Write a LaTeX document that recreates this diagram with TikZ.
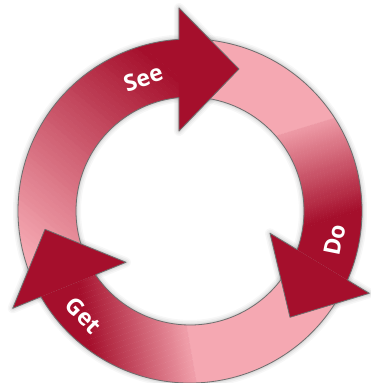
\documentclass[tikz,border=0pt]{standalone}
\usepackage{fontspec}
\setmainfont{Open Sans}
\definecolor{darkc}{HTML}{A50F2C}
\definecolor{pinkc}{HTML}{F5A8B2}
\definecolor{edgec}{HTML}{6E6E6E}
\newcommand{\Ro}{172}
\newcommand{\Ri}{114}
% annular sector: tail angle, outer junction angle, inner junction angle
\newcommand{\shaftpath}[3]{(#1:\Ro) arc[start angle=#1, end angle=#2, radius=\Ro] -- (#3:\Ri) arc[start angle=#3, end angle=#1, radius=\Ri] -- cycle}
% linear gradient strips: origin, angle, length, start percent
\newcommand{\gradstrips}[4]{%
  \begin{scope}[shift={#1}, rotate=#2]
    \fill[pinkc] (-500,-500) rectangle (0.3,500);
    \foreach \i in {0,...,47}{
      \pgfmathtruncatemacro\pp{#4+(100-#4)*\i/47}
      \fill[darkc!\pp!pinkc] ({#3*\i/48},-500) rectangle ({#3*(\i+1)/48+0.4},500);
    }
    \fill[darkc] (#3,-500) rectangle (500,500);
  \end{scope}}
\tikzset{
  edge/.style={draw=edgec, line width=0.8pt, line join=round},
  lab/.style={text=white, font=\bfseries\fontsize{23}{23}\selectfont, inner sep=0pt},
  glow/.style={black, line join=round}
}
\begin{document}
\begin{tikzpicture}[x=1pt,y=1pt]
\useasboundingbox (-190,-172) rectangle (180,211);
% head points
\coordinate (so) at (-11,203);  \coordinate (st) at (49,142);   \coordinate (si) at (-11,80);
\coordinate (sjo) at (-11,171.6); \coordinate (sji) at (-11,113.5);
\coordinate (do) at (179.3,-82.3); \coordinate (dt) at (100,-106.3); \coordinate (di) at (80,-22.3);
\coordinate (djo) at (157.6,-69.1); \coordinate (dji) at (107.2,-38.7);
\coordinate (go) at (-177.3,-97.3); \coordinate (gt) at (-145,-18.3); \coordinate (gi) at (-64,-51.3);
\coordinate (gjo) at (-149,-85.8); \coordinate (gji) at (-94.5,-63.7);
% soft glow
\foreach \w/\o in {10/0.03,7/0.04,4/0.05,2/0.06}{
  \draw[glow, opacity=\o, line width=\w pt] \shaftpath{206}{93.67}{95.54};
  \draw[glow, opacity=\o, line width=\w pt] \shaftpath{88}{-23.68}{-19.85};
  \draw[glow, opacity=\o, line width=\w pt] \shaftpath{332}{209.93}{213.98};
  \draw[glow, opacity=\o, line width=\w pt] (so) -- (st) -- (si) -- cycle;
  \draw[glow, opacity=\o, line width=\w pt] (do) -- (dt) -- (di) -- cycle;
  \draw[glow, opacity=\o, line width=\w pt] (go) -- (gt) -- (gi) -- cycle;
}
% shafts
\begin{scope}
  \clip \shaftpath{206}{93.67}{95.54};
  \gradstrips{(-90,-107.2)}{50}{235}{0}
\end{scope}
\begin{scope}
  \clip \shaftpath{88}{-23.68}{-19.85};
  \gradstrips{(-13.7,44.8)}{-73}{96}{10}
\end{scope}
\begin{scope}
  \clip \shaftpath{332}{209.93}{213.98};
  \gradstrips{(-22.8,-4.0)}{190}{100}{7}
\end{scope}
% shaft outlines
\draw[edge] (206:\Ro) arc[start angle=206, end angle=93.67, radius=\Ro];
\draw[edge] (95.54:\Ri) arc[start angle=95.54, end angle=206, radius=\Ri];
\draw[edge] (88:\Ro) arc[start angle=88, end angle=-23.68, radius=\Ro];
\draw[edge] (-19.85:\Ri) arc[start angle=-19.85, end angle=88, radius=\Ri];
\draw[edge] (332:\Ro) arc[start angle=332, end angle=209.93, radius=\Ro];
\draw[edge] (213.98:\Ri) arc[start angle=213.98, end angle=332, radius=\Ri];
% heads
\fill[darkc] (so) -- (st) -- (si) -- cycle;
\draw[edge] (sjo) -- (so) -- (st) -- (si) -- (sji);
\fill[darkc] (do) -- (dt) -- (di) -- cycle;
\draw[edge] (djo) -- (do) -- (dt) -- (di) -- (dji);
\fill[darkc] (go) -- (gt) -- (gi) -- cycle;
\draw[edge] (gjo) -- (go) -- (gt) -- (gi) -- (gji);
% labels
\node[lab, rotate=19.4] (see) at (109.4:140.7) {See};
\node[lab, rotate=78.7] (dolab) at (-11.3:147.9) {Do};
\node[lab, rotate=-45.7] (get) at (224.3:149) {Get};
\end{tikzpicture}
\end{document}
